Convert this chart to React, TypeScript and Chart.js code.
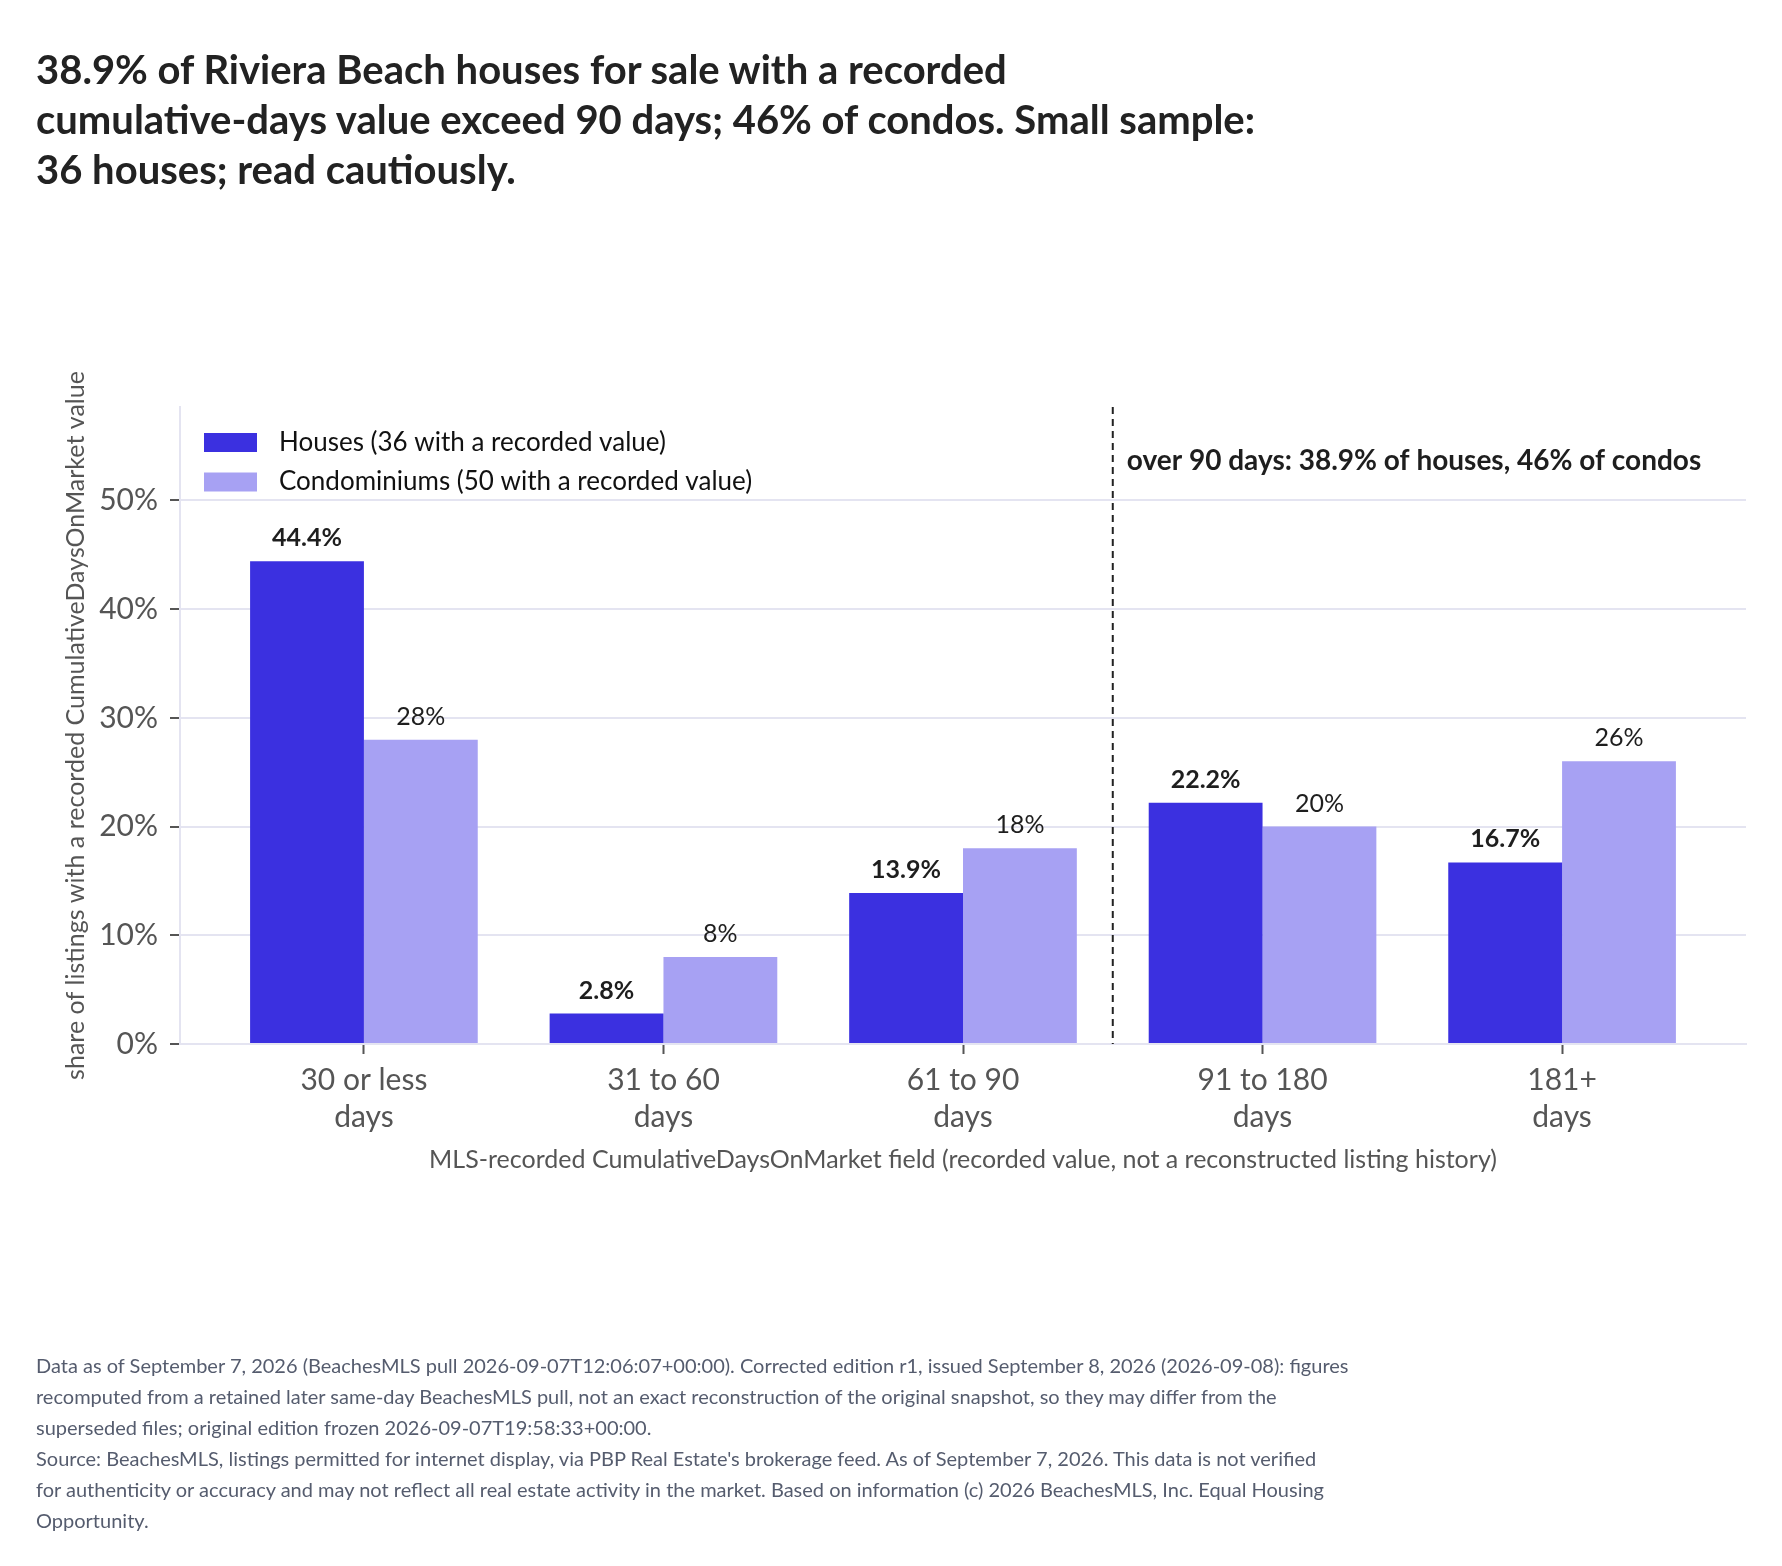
import React, { useEffect, useRef } from 'react';
import { Chart, registerables } from 'chart.js';

Chart.register(...registerables);
Chart.defaults.font.family = 'Lato';

// ---- data ----
const CATEGORIES = ['30 or less days', '31 to 60 days', '61 to 90 days', '91 to 180 days', '181+ days'];
const X_TICK_LABELS = [
  ['30 or less', 'days'],
  ['31 to 60', 'days'],
  ['61 to 90', 'days'],
  ['91 to 180', 'days'],
  ['181+', 'days'],
];
const HOUSES = [44.4, 2.8, 13.9, 22.2, 16.7];
const CONDOS = [28, 8, 18, 20, 26];
const SERIES_LABELS = ['Houses (36 with a recorded value)', 'Condominiums (50 with a recorded value)'];
const SERIES_DECIMALS = [1, 0];
const Y_TICKS = [0, 10, 20, 30, 40, 50];
const Y_MAX = 58.6;
const X_MIN = -0.614;
const X_MAX = 4.614;
const THRESHOLD_POS = 2.5; // between "61 to 90" and "91 to 180"
const ANNOTATION = 'over 90 days: 38.9% of houses, 46% of condos';
const Y_TITLE = 'share of listings with a recorded CumulativeDaysOnMarket value';
const X_TITLE = 'MLS-recorded CumulativeDaysOnMarket field (recorded value, not a reconstructed listing history)';
const TITLE_LINES = [
  '38.9% of Riviera Beach houses for sale with a recorded',
  'cumulative-days value exceed 90 days; 46% of condos. Small sample:',
  '36 houses; read cautiously.',
];
const FOOTNOTE_LINES = [
  'Data as of September 7, 2026 (BeachesMLS pull 2026-09-07T12:06:07+00:00). Corrected edition r1, issued September 8, 2026 (2026-09-08): figures',
  'recomputed from a retained later same-day BeachesMLS pull, not an exact reconstruction of the original snapshot, so they may differ from the',
  'superseded files; original edition frozen 2026-09-07T19:58:33+00:00.',
  "Source: BeachesMLS, listings permitted for internet display, via PBP Real Estate's brokerage feed. As of September 7, 2026. This data is not verified",
  'for authenticity or accuracy and may not reflect all real estate activity in the market. Based on information (c) 2026 BeachesMLS, Inc. Equal Housing',
  'Opportunity.',
];

// ---- styles ----
const HOUSE_COLOR = '#3b30e0';
const CONDO_COLOR = '#a7a1f3';
const GRID_COLOR = '#e4e4f1';
const TICK_COLOR = '#555555';
const TEXT_DARK = '#1e1e1e';

const valueLabelsPlugin = {
  id: 'valueLabels',
  afterDatasetsDraw(chart: any) {
    const { ctx } = chart;
    ctx.save();
    chart.data.datasets.forEach((ds: any, i: number) => {
      const meta = chart.getDatasetMeta(i);
      meta.data.forEach((el: any, j: number) => {
        const v = ds.data[j].y;
        const dec = SERIES_DECIMALS[i];
        const txt = (dec > 0 ? v.toFixed(dec) : String(v)) + '%';
        ctx.font = (i === 0 ? 'bold ' : '') + '25px Lato';
        ctx.fillStyle = TEXT_DARK;
        ctx.textAlign = 'center';
        ctx.textBaseline = 'alphabetic';
        ctx.fillText(txt, el.x, el.y - 15);
      });
    });
    ctx.restore();
  },
};

const thresholdPlugin = {
  id: 'threshold',
  afterDatasetsDraw(chart: any) {
    const { ctx, chartArea } = chart;
    const x = chart.scales.x.getPixelForValue(THRESHOLD_POS);
    ctx.save();
    ctx.strokeStyle = '#222';
    ctx.lineWidth = 2;
    ctx.setLineDash([7, 5]);
    ctx.beginPath();
    ctx.moveTo(x, chartArea.top);
    ctx.lineTo(x, chartArea.bottom);
    ctx.stroke();
    ctx.setLineDash([]);
    ctx.font = 'bold 28px Lato';
    ctx.fillStyle = TEXT_DARK;
    ctx.textAlign = 'left';
    ctx.textBaseline = 'middle';
    ctx.fillText(ANNOTATION, x + 14, chartArea.top + 54);
    ctx.restore();
  },
};

const insideLegendPlugin = {
  id: 'insideLegend',
  afterDraw(chart: any) {
    const { ctx, chartArea } = chart;
    ctx.save();
    chart.data.datasets.forEach((ds: any, i: number) => {
      const cy = chartArea.top + 35.5 + i * 39.5;
      ctx.fillStyle = ds.backgroundColor;
      ctx.fillRect(chartArea.left + 24, cy - 9.5, 53, 19);
      ctx.fillStyle = '#111';
      ctx.font = '26px Lato';
      ctx.textAlign = 'left';
      ctx.textBaseline = 'middle';
      ctx.fillText(ds.label, chartArea.left + 99, cy);
    });
    ctx.restore();
  },
};

export default function App() {
  const ref = useRef<HTMLCanvasElement>(null);

  useEffect(() => {
    if (!ref.current) return;
    const chart = new Chart(ref.current, {
      type: 'bar',
      data: {
        datasets: [
          {
            label: SERIES_LABELS[0],
            data: HOUSES.map((y, i) => ({ x: i, y })),
            backgroundColor: HOUSE_COLOR,
            categoryPercentage: 0.76,
            barPercentage: 1,
          },
          {
            label: SERIES_LABELS[1],
            data: CONDOS.map((y, i) => ({ x: i, y })),
            backgroundColor: CONDO_COLOR,
            categoryPercentage: 0.76,
            barPercentage: 1,
          },
        ],
      } as any,
      options: {
        animation: false,
        responsive: false,
        layout: { padding: { left: 0, top: 407, right: 36, bottom: 391 } },
        plugins: { legend: { display: false }, tooltip: { enabled: false } },
        scales: {
          x: {
            type: 'linear',
            min: X_MIN,
            max: X_MAX,
            offset: false,
            afterBuildTicks: (s: any) => {
              s.ticks = CATEGORIES.map((_, i) => ({ value: i }));
            },
            afterFit: (s: any) => {
              s.height = 131;
            },
            grid: {
              offset: false,
              drawOnChartArea: false,
              drawTicks: true,
              tickLength: 10,
              tickColor: TICK_COLOR,
              tickWidth: 2,
            },
            border: { display: true, color: GRID_COLOR, width: 2 },
            ticks: {
              callback: (v: any) => X_TICK_LABELS[v],
              color: TICK_COLOR,
              font: { size: 30, lineHeight: 1.233 },
              padding: 7.5,
              autoSkip: false,
              maxRotation: 0,
              minRotation: 0,
            },
            title: {
              display: true,
              text: X_TITLE,
              color: TICK_COLOR,
              font: { size: 25 },
              padding: { top: 0, bottom: 0 },
            },
          },
          y: {
            min: 0,
            max: Y_MAX,
            afterBuildTicks: (s: any) => {
              s.ticks = Y_TICKS.map((v) => ({ value: v }));
            },
            afterFit: (s: any) => {
              s.width = 180;
            },
            grid: {
              color: GRID_COLOR,
              lineWidth: 2,
              tickColor: TICK_COLOR,
              tickLength: 10,
              tickWidth: 2,
            },
            border: { display: true, color: GRID_COLOR, width: 2 },
            ticks: {
              callback: (v: any) => v + '%',
              color: TICK_COLOR,
              font: { size: 30 },
              padding: 12,
            },
            title: {
              display: true,
              text: Y_TITLE,
              color: TICK_COLOR,
              font: { size: 25 },
              padding: { top: 61, bottom: 0 },
            },
          },
        },
      } as any,
      plugins: [valueLabelsPlugin, thresholdPlugin, insideLegendPlugin],
    });
    return () => chart.destroy();
  }, []);

  return (
    <div
      style={{
        position: 'absolute',
        left: 0,
        top: 0,
        width: 1782,
        height: 1566,
        background: '#ffffff',
        fontFamily: 'Lato',
        overflow: 'hidden',
      }}
    >
      <canvas ref={ref} width={1782} height={1566} style={{ position: 'absolute', left: 0, top: 0 }} />
      <div
        style={{
          position: 'absolute',
          left: 36,
          top: 43.5,
          font: 'bold 40px/50px Lato',
          color: '#222222',
          whiteSpace: 'nowrap',
        }}
      >
        {TITLE_LINES.map((l) => (
          <div key={l}>{l}</div>
        ))}
      </div>
      <div
        style={{
          position: 'absolute',
          left: 36,
          top: 1350,
          font: '20px/31px Lato',
          color: '#555c6e',
          whiteSpace: 'nowrap',
        }}
      >
        {FOOTNOTE_LINES.map((l) => (
          <div key={l}>{l}</div>
        ))}
      </div>
    </div>
  );
}
